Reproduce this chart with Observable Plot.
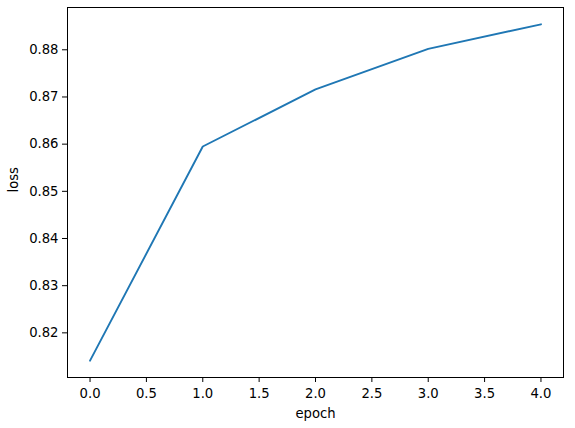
<!DOCTYPE html>
<html>
<head>
<meta charset="utf-8">
<script src="https://cdn.jsdelivr.net/npm/d3@7"></script>
<script src="https://cdn.jsdelivr.net/npm/@observablehq/plot@0.6"></script>
<style>
  html, body { margin: 0; padding: 0; background: #fff; }
  #chart svg { display: block; }
</style>
</head>
<body>
<div id="chart"></div>
<script>
const epochs = [0, 1, 2, 3, 4];
const loss = [0.8141, 0.8595, 0.8716, 0.8802, 0.8854];
const xTicks = [0, 0.5, 1, 1.5, 2, 2.5, 3, 3.5, 4];
const yTicks = [0.82, 0.83, 0.84, 0.85, 0.86, 0.87, 0.88];
const xLabel = "epoch";
const yLabel = "loss";

const data = epochs.map((e, i) => ({epoch: e, loss: loss[i]}));

// matplotlib-style 5% margins
const pad = (lo, hi) => { const m = (hi - lo) * 0.05; return [lo - m, hi + m]; };
const xDomain = pad(d3.min(epochs), d3.max(epochs));
const yDomain = pad(d3.min(loss), d3.max(loss));

const font = "DejaVu Sans, sans-serif";
const fs = 13.2;

const chart = Plot.plot({
  width: 575,
  height: 428,
  marginLeft: 67,
  marginRight: 12,
  marginTop: 7,
  marginBottom: 51,
  style: {fontFamily: font, fontSize: fs + "px", color: "#000", background: "#fff"},
  x: {domain: xDomain},
  y: {domain: yDomain},
  marks: [
    Plot.axisX({ticks: xTicks, tickFormat: d3.format(".1f"), tickSize: 5, tickPadding: 6, label: null, fontSize: fs}),
    Plot.axisY({ticks: yTicks, tickFormat: d3.format(".2f"), tickSize: 5, tickPadding: 4, label: null, fontSize: fs}),
    Plot.line(data, {x: "epoch", y: "loss", stroke: "#1f77b4", strokeWidth: 1.9}),
    Plot.frame({stroke: "#000", strokeWidth: 1}),
    Plot.text([xLabel], {frameAnchor: "bottom", dy: 40, lineAnchor: "bottom", text: d => d, fontSize: fs, fill: "#000"}),
    Plot.text([yLabel], {frameAnchor: "left", dx: -49.5, rotate: -90, lineAnchor: "bottom", text: d => d, fontSize: fs, fill: "#000"})
  ]
});
document.getElementById("chart").appendChild(chart);
</script>
</body>
</html>
